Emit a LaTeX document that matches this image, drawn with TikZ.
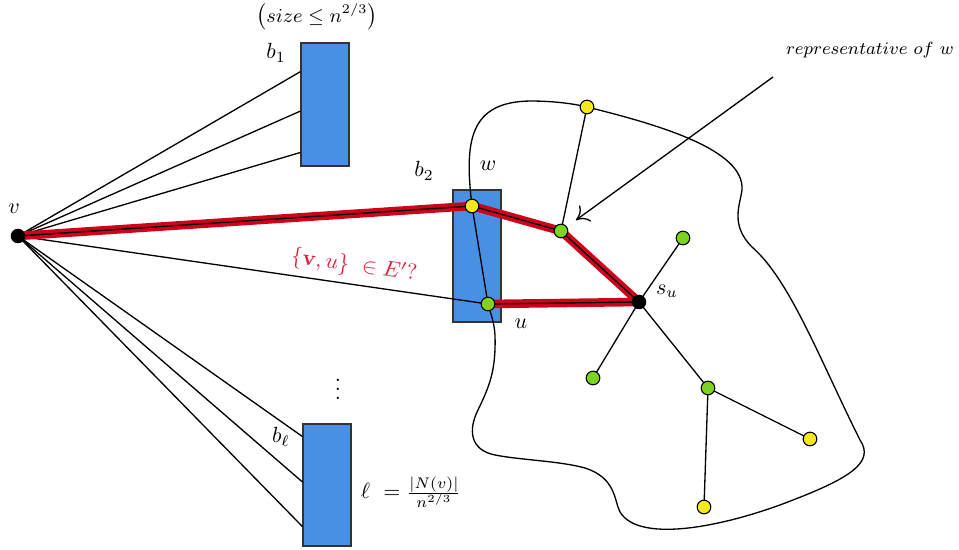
\documentclass[tikz,border=0pt]{standalone}
\usetikzlibrary{arrows.meta,calc}
\definecolor{boxblue}{RGB}{74,144,226}
\definecolor{pathred}{RGB}{208,2,27}
\definecolor{labred}{RGB}{222,30,60}
\definecolor{ylw}{RGB}{248,231,28}
\definecolor{grn}{RGB}{126,211,33}
\pgfdeclarelayer{boxes}\pgfdeclarelayer{edges}
\pgfsetlayers{boxes,edges,main}
\begin{document}
\begin{tikzpicture}[x=0.4545pt,y=-0.4545pt,
 bbox/.style={draw=black!80, fill=boxblue, line width=0.6pt, minimum width=21.8pt, inner sep=0pt},
 vert/.style={circle, draw=black, line width=0.5pt, minimum size=6.2pt, inner sep=0pt},
 yv/.style={vert, fill=ylw}, gv/.style={vert, fill=grn},
 bv/.style={circle, fill=black, minimum size=6.6pt, inner sep=0pt},
 edge/.style={line width=0.6pt},
 redline/.style={pathred, line width=3.9pt, line join=round},
 blackline/.style={black, line width=0.6pt, line join=round},
 lab/.style={inner sep=0pt}]
\useasboundingbox (0,0) rectangle (959,550);

\begin{pgfonlayer}{boxes}
\node[bbox, minimum height=55.9pt] (b1) at (325,104.5) {};
\node[bbox, minimum height=60pt] (b2) at (477,256) {};
\node[bbox, minimum height=55.5pt] (bl) at (327,485) {};
\end{pgfonlayer}

\node[bv] (v) at (18,236) {};
\node[yv] (w) at (472,206) {};
\node[gv] (u) at (488,304) {};
\node[gv] (g1) at (561,231) {};
\node[bv] (su) at (639,302) {};
\node[yv] (y1) at (587,107) {};
\node[gv] (g2) at (683,238) {};
\node[gv] (g3) at (593,378) {};
\node[gv] (g4) at (708,388) {};
\node[yv] (y2) at (810,439) {};
\node[yv] (y3) at (704,507) {};
\coordinate (rep) at (773,77);

\begin{pgfonlayer}{edges}
\draw[edge] (v.center) -- ($(b1.north west)!0.236!(b1.south west)$);
\draw[edge] (v.center) -- ($(b1.north west)!0.553!(b1.south west)$);
\draw[edge] (v.center) -- ($(b1.north west)!0.886!(b1.south west)$);
\draw[edge] (v.center) -- ($(bl.north west)!0.107!(bl.south west)$);
\draw[edge] (v.center) -- ($(bl.north west)!0.475!(bl.south west)$);
\draw[edge] (v.center) -- ($(bl.north west)!0.836!(bl.south west)$);
\draw[edge] (v.center) -- (u.center);
\draw[edge] (w.center) -- (u.center);
\draw[edge] (y1.center) -- (g1.center);
\draw[edge] (su.center) -- (g2.center);
\draw[edge] (su.center) -- (g3.center);
\draw[edge] (su.center) -- (g4.center);
\draw[edge] (g4.center) -- (y2.center);
\draw[edge] (g4.center) -- (y3.center);
\draw[redline] (v.center) -- (w.center) -- (g1.center) -- (su.center) -- (u.center);
\draw[blackline] (v.center) -- (w.center) -- (g1.center) -- (su.center) -- (u.center);
\draw[edge] (w.center) .. controls (464,140) and (470,102) .. (530,101)
  .. controls (555,101) and (575,104) .. (y1.center)
  .. controls (660,125) and (745,150) .. (742,190)
  .. controls (740,205) and (730,225) .. (752,247)
  .. controls (790,280) and (820,360) .. (860,440)
  .. controls (875,462) and (850,478) .. (793,500)
  .. controls (730,525) and (640,545) .. (620,512)
  .. controls (614,500) and (616,478) .. (585,468)
  .. controls (560,461) and (520,460) .. (495,455)
  .. controls (470,450) and (468,430) .. (478,410)
  .. controls (490,385) and (496,370) .. (495,335)
  .. controls (494,320) and (490,312) .. (u.center);
\end{pgfonlayer}

\draw[edge, -{Computer Modern Rightarrow[length=5.5pt,width=9pt]}, shorten >=5pt] (rep) -- (g1);

\node[lab] (lv) at (14,209) {$v$};
\node[lab] (lb1) at (276,53) {$b_1$};
\node[lab] (lb2) at (424,171) {$b_2$};
\node[lab] (lw) at (488,166) {$w$};
\node[lab] (lu) at (521,324) {$u$};
\node[lab] (lsu) at (667,291) {$s_u$};
\node[lab] (lbl) at (281,437) {$b_\ell$};
\node[lab] (dots) at (338,383) {$\vdots$};
\node[lab] (lell) at (411,492) {$\ell\ =\frac{|N(v)|}{n^{2/3}}$};
\node[lab] (size) at (317,17) {\small$\left(size \leq n^{2/3}\right)$};
\node[lab] (lrep) at (870,50) {\footnotesize$representative\ of\ w$};
\node[lab, text=labred, rotate=-8] (luv) at (354,266) {$\{\mathbf{v},u\}\ \in E'?$};
\end{tikzpicture}
\end{document}
